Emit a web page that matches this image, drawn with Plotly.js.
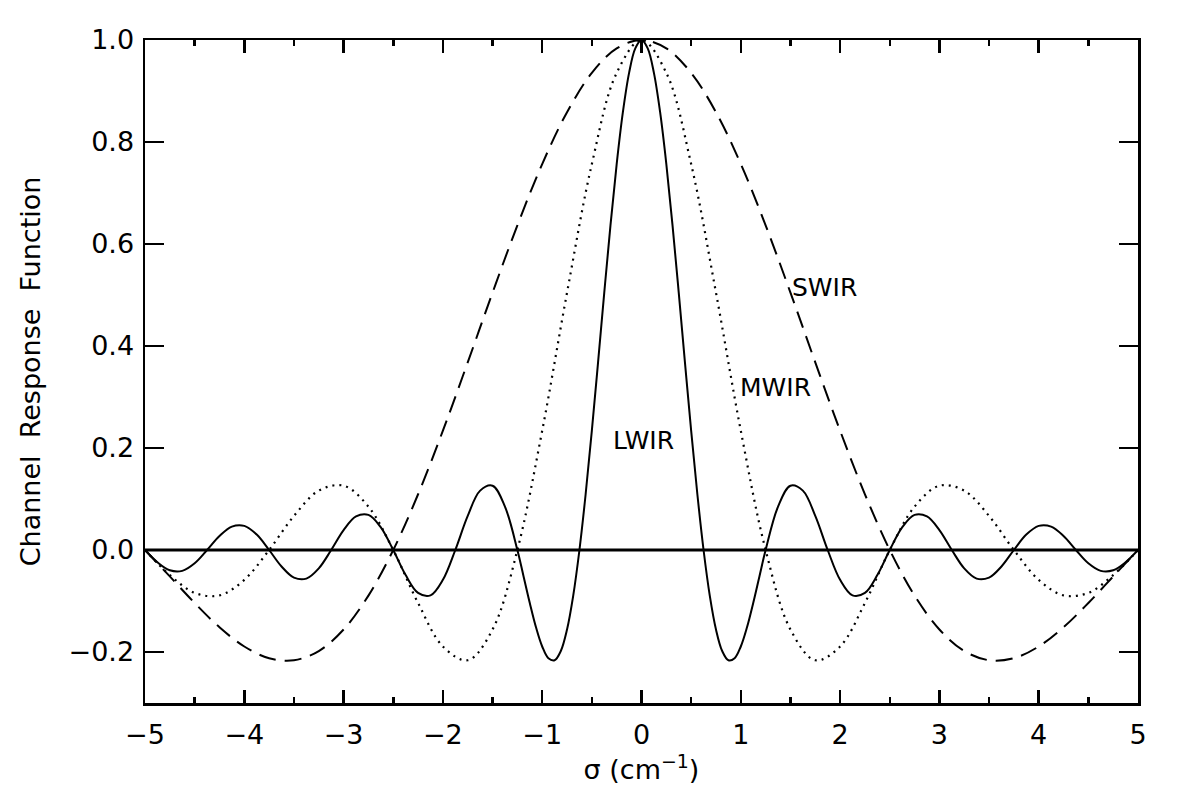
<!DOCTYPE html>
<html>
<head>
<meta charset="utf-8">
<script src="https://cdn.plot.ly/plotly-3.0.1.min.js"></script>
<style>html,body{margin:0;padding:0;background:#fff;}#chart{width:1200px;height:800px;}</style>
</head>
<body>
<div id="chart"></div>
<script>
// wavenumber grid for LWIR (step 0.125, finer near the centre)
const sigmaLW = [-5,-4.875,-4.75,-4.625,-4.5,-4.375,-4.25,-4.125,-4,-3.875,-3.75,-3.625,-3.5,-3.375,-3.25,-3.125,-3,-2.875,-2.75,-2.625,-2.5,-2.375,-2.25,-2.125,-2,-1.875,-1.75,-1.625,-1.5,-1.375,
  -1.25,-1.1875,-1.125,-1.0625,-1,-0.9375,-0.875,-0.8125,-0.75,-0.6875,-0.625,-0.5625,-0.5,-0.4375,-0.375,-0.3125,-0.25,-0.1875,-0.125,-0.0625,
  0,
  0.0625,0.125,0.1875,0.25,0.3125,0.375,0.4375,0.5,0.5625,0.625,0.6875,0.75,0.8125,0.875,0.9375,1,1.0625,1.125,1.1875,1.25,
  1.375,1.5,1.625,1.75,1.875,2,2.125,2.25,2.375,2.5,2.625,2.75,2.875,3,3.125,3.25,3.375,3.5,3.625,3.75,3.875,4,4.125,4.25,4.375,4.5,4.625,4.75,4.875,5];
const lwir = [0,-0.0240,-0.0398,-0.0409,-0.0260,0,0.0275,0.0459,0.0473,0.0302,0,-0.0323,-0.0541,-0.0561,-0.0360,0,0.0390,0.0658,0.0688,0.0445,0,-0.0492,-0.0841,-0.0890,-0.0585,0,0.0668,0.1164,0.1261,0.0850,
  0,-0.0518,-0.1039,-0.1515,-0.1892,-0.2122,-0.2162,-0.1981,-0.1559,-0.0894,0,0.1093,0.2339,0.3679,0.5046,0.6366,0.7568,0.8584,0.9355,0.9836,
  1,
  0.9836,0.9355,0.8584,0.7568,0.6366,0.5046,0.3679,0.2339,0.1093,0,-0.0894,-0.1559,-0.1981,-0.2162,-0.2122,-0.1892,-0.1515,-0.1039,-0.0518,0,
  0.0850,0.1261,0.1164,0.0668,0,-0.0585,-0.0890,-0.0841,-0.0492,0,0.0445,0.0688,0.0658,0.0390,0,-0.0360,-0.0561,-0.0541,-0.0323,0,0.0302,0.0473,0.0459,0.0275,0,-0.0260,-0.0409,-0.0398,-0.0240,0];
// wavenumber grid for MWIR and SWIR (step 0.25)
const sigmaMS = [-5,-4.75,-4.5,-4.25,-4,-3.75,-3.5,-3.25,-3,-2.75,-2.5,-2.25,-2,-1.75,-1.5,-1.25,-1,-0.75,-0.5,-0.25,0,0.25,0.5,0.75,1,1.25,1.5,1.75,2,2.25,2.5,2.75,3,3.25,3.5,3.75,4,4.25,4.5,4.75,5];
const mwir = [0,-0.0492,-0.0841,-0.0890,-0.0585,0,0.0668,0.1164,0.1261,0.0850,0,-0.1039,-0.1892,-0.2162,-0.1559,0,0.2339,0.5046,0.7568,0.9355,1,0.9355,0.7568,0.5046,0.2339,0,-0.1559,-0.2162,-0.1892,-0.1039,0,0.0850,0.1261,0.1164,0.0668,0,-0.0585,-0.0890,-0.0841,-0.0492,0];
const swir = [0,-0.0518,-0.1039,-0.1515,-0.1892,-0.2122,-0.2162,-0.1981,-0.1559,-0.0894,0,0.1093,0.2339,0.3679,0.5046,0.6366,0.7568,0.8584,0.9355,0.9836,1,0.9836,0.9355,0.8584,0.7568,0.6366,0.5046,0.3679,0.2339,0.1093,0,-0.0894,-0.1559,-0.1981,-0.2162,-0.2122,-0.1892,-0.1515,-0.1039,-0.0518,0];
const zeroX = [-5, 5];
const zeroY = [0, 0];
const labels = ["SWIR", "MWIR", "LWIR"];
const labelX = [1.84, 1.35, 0.02];
const labelY = [0.515, 0.318, 0.215];
const xTicks = [-5,-4,-3,-2,-1,0,1,2,3,4,5];
const xTickText = ["\u22125","\u22124","\u22123","\u22122","\u22121","0","1","2","3","4","5"];
const yTicks = [-0.2,0,0.2,0.4,0.6,0.8,1.0];
const yTickText = ["\u22120.2","0.0","0.2","0.4","0.6","0.8","1.0"];

const FONT = "DejaVu Sans, Liberation Sans, Arial, sans-serif";
const traces = [
  {x: zeroX, y: zeroY, mode: "lines", line: {color: "#000", width: 3}, hoverinfo: "skip"},
  {x: sigmaMS, y: swir, mode: "lines", line: {color: "#000", width: 2, dash: "17px,9px", shape: "spline"}},
  {x: sigmaMS, y: mwir, mode: "lines", line: {color: "#000", width: 2.2, dash: "2px,5px", shape: "spline"}},
  {x: sigmaLW, y: lwir, mode: "lines", line: {color: "#000", width: 2, shape: "spline"}}
];
const annotations = labels.map((t, i) => ({
  x: labelX[i], y: labelY[i], text: t, showarrow: false,
  font: {family: FONT, size: 25, color: "#000"}, xanchor: "center", yanchor: "middle"
}));
const layout = {
  width: 1200, height: 800,
  margin: {l: 145, r: 62, t: 40, b: 97},
  paper_bgcolor: "#fff", plot_bgcolor: "#fff",
  showlegend: false,
  font: {family: FONT, size: 27, color: "#000"},
  xaxis: {
    range: [-5, 5], showgrid: false, zeroline: false,
    showline: true, linecolor: "#000", linewidth: 2.5, mirror: "allticks",
    ticks: "inside", ticklen: 13, tickwidth: 2.5, tickcolor: "#000",
    tickvals: xTicks, ticktext: xTickText, ticklabelstandoff: 6,
    minor: {dtick: 0.5, tick0: 0, ticks: "inside", ticklen: 6, tickwidth: 2.5, tickcolor: "#000"},
    tickfont: {family: FONT, size: 27},
    title: {text: "\u03c3 (cm<sup>\u22121</sup>)", font: {family: FONT, size: 27}, standoff: 4}
  },
  yaxis: {
    range: [-0.3, 1.0], showgrid: false, zeroline: false,
    showline: true, linecolor: "#000", linewidth: 2.5, mirror: "allticks",
    ticks: "inside", ticklen: 19, tickwidth: 2.5, tickcolor: "#000",
    tickvals: yTicks, ticktext: yTickText, ticklabelstandoff: 3,
    tickfont: {family: FONT, size: 27},
    title: {text: "Channel  Response  Function", font: {family: FONT, size: 27}, standoff: 20}
  },
  annotations: annotations
};
Plotly.newPlot("chart", traces, layout, {displayModeBar: false, staticPlot: true});
</script>
</body>
</html>
